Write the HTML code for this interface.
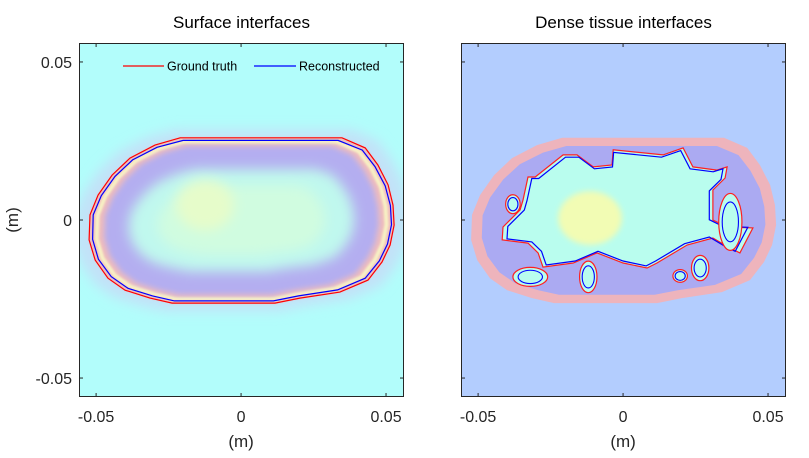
<!DOCTYPE html>
<html><head><meta charset="utf-8"><style>
body{margin:0;background:#fff;}
svg{display:block;font-family:"Liberation Sans",Arial,sans-serif;}
</style></head><body>
<svg id="c" width="809" height="458" viewBox="0 0 809 458">
<defs>
<filter id="b6" x="-30%" y="-30%" width="160%" height="160%"><feGaussianBlur stdDeviation="6"/></filter>
<filter id="b3" x="-30%" y="-30%" width="160%" height="160%"><feGaussianBlur stdDeviation="3"/></filter>
<filter id="b1"><feGaussianBlur stdDeviation="1"/></filter>
<clipPath id="clipL"><rect x="79" y="43" width="325" height="354"/></clipPath>
<clipPath id="clipR"><rect x="461" y="43" width="325" height="354"/></clipPath>
</defs>
<g id="root"></g>
</svg>
<script>
// ---- data (meters) ----
const xTicks = [-0.05, 0, 0.05];
const yTicks = [0.05, 0, -0.05];
const xTickLabels = ["-0.05", "0", "0.05"];
const yTickLabels = ["0.05", "0", "-0.05"];
const titles = ["Surface interfaces", "Dense tissue interfaces"];
const truthX = [-0.021,0.0348,0.0428,0.0472,0.0507,0.0524,0.0528,0.0514,0.0486,0.0438,0.0341,0.0203,0.0117,-0.0238,-0.0314,-0.04,-0.0459,-0.0503,-0.0524,-0.0521,-0.0493,-0.0445,-0.0383,-0.0297];
const truthY = [0.026,0.026,0.0228,0.0174,0.0111,0.0047,-0.0016,-0.0079,-0.0133,-0.019,-0.0228,-0.0247,-0.0263,-0.0263,-0.0247,-0.0222,-0.0184,-0.0127,-0.0063,0.0016,0.0079,0.0142,0.0196,0.0237];
const reconX = [-0.020,0.0335,0.0418,0.0462,0.0497,0.0515,0.0519,0.0505,0.0477,0.0428,0.0333,0.0198,0.0112,-0.0230,-0.0305,-0.0390,-0.0448,-0.0492,-0.0512,-0.0510,-0.0482,-0.0435,-0.0374,-0.0290];
const reconY = [0.0252,0.0252,0.0221,0.0169,0.0108,0.0046,-0.0015,-0.0076,-0.0129,-0.0184,-0.0221,-0.0240,-0.0256,-0.0256,-0.0240,-0.0216,-0.0179,-0.0124,-0.0061,0.0016,0.0077,0.0138,0.0190,0.0230];
const denseX = [-0.0303,-0.0207,-0.0159,-0.0103,-0.0038,-0.0034,0.0138,0.0207,0.0241,0.0324,0.0359,0.0352,0.031,0.031,0.0359,0.0448,0.0403,0.0369,0.031,0.0221,0.0117,0.0083,0,-0.009,-0.0172,-0.0276,-0.0293,-0.0328,-0.0417,-0.0414,-0.0355,-0.0345,-0.0328];
const denseY = [0.0136,0.0206,0.0206,0.0168,0.0174,0.0222,0.0206,0.0228,0.0168,0.0158,0.0168,0.0133,0.0095,0,-0.0022,-0.0025,-0.0104,-0.0089,-0.0057,-0.0079,-0.0136,-0.0152,-0.0136,-0.0104,-0.0136,-0.0149,-0.0104,-0.0073,-0.0063,-0.0022,0.0032,0.0063,0.0136];
const islandX = [-0.032,-0.012,0.0197,0.0266,0.037,-0.038];
const islandY = [-0.018,-0.018,-0.0177,-0.0152,-0.0006,0.005];
const islandRX = [0.006,0.003,0.0025,0.003,0.004,0.0025];
const islandRY = [0.003,0.005,0.002,0.004,0.009,0.003];

// ---- axes ----
const W = 325, H = 354, TOP = 43;
const panelsLeft = [79, 461];
const XMIN = -0.0559, XMAX = 0.0562, YMIN = -0.056, YMAX = 0.056;
const NS = "http://www.w3.org/2000/svg";
const root = document.getElementById('root');
function sx(p, v){ return panelsLeft[p] + (v - XMIN) / (XMAX - XMIN) * W; }
function sy(v){ return TOP + (YMAX - v) / (YMAX - YMIN) * H; }
function sxl(v){ return v / (XMAX - XMIN) * W; }
function syl(v){ return v / (YMAX - YMIN) * H; }
function mk(tag, attrs, parent){ const e = document.createElementNS(NS, tag); for (const k in attrs) e.setAttribute(k, attrs[k]); (parent||root).appendChild(e); return e; }
function pts(p, xs, ys, s, cx, cy, sy2){ s = s||1; sy2 = sy2||s; cx = cx||0; cy = cy||0; return xs.map((x,i)=> sx(p, cx+(x-cx)*s).toFixed(1)+','+sy(cy+(ys[i]-cy)*sy2).toFixed(1)).join(' '); }

// ===== LEFT PANEL =====
let gL = mk('g', {'clip-path':'url(#clipL)'});


mk('rect', {x:79,y:43,width:W,height:H,fill:'#b2fdfb'}, gL);
mk('polygon', {points:pts(0,truthX,truthY,1.1),fill:'#c2e2f8',filter:'url(#b6)'}, gL);
mk('polygon', {points:pts(0,truthX,truthY,1.0),fill:'#f0bcbc',filter:'url(#b1)'}, gL);
mk('polygon', {points:pts(0,truthX,truthY,0.95),fill:'none',stroke:'#f8f2c4',"stroke-width":4,filter:'url(#b1)'}, gL);
mk('polygon', {points:pts(0,truthX,truthY,0.9),fill:'#b4aef0',filter:'url(#b3)'}, gL);
mk('polygon', {points:pts(0,truthX,truthY,0.74,0,0,0.62),fill:'#c0f8ee',filter:'url(#b6)'}, gL);
mk('polygon', {points:pts(0,truthX,truthY,0.55,0,0,0.42),fill:'#d0fce0',filter:'url(#b6)'}, gL);
mk('ellipse', {cx:sx(0,-0.0124),cy:sy(0.0047),rx:sxl(0.01),ry:syl(0.008),fill:'#e6fcca',filter:'url(#b6)'}, gL);
let tl = mk('polygon', {points:pts(0,truthX,truthY),fill:'none',stroke:'#ff0000','stroke-width':1.2}, gL);


let rl = mk('polygon', {points:pts(0,reconX,reconY),fill:'none',stroke:'#0000ff','stroke-width':1.2}, gL);



// ===== RIGHT PANEL =====
let gR = mk('g', {'clip-path':'url(#clipR)'});


mk('rect', {x:461,y:43,width:W,height:H,fill:'#b3cdfe'}, gR);
mk('polygon', {points:pts(1,truthX,truthY,1.0),fill:'#eeb4bc'}, gR);
mk('polygon', {points:pts(1,truthX,truthY,0.93,0,0,0.9),fill:'#abaaf2'}, gR);
mk('polygon', {points:pts(1,denseX,denseY),fill:'#b9fdee',stroke:'#ff2020','stroke-width':1.2}, gR);
mk('ellipse', {cx:sx(1,-0.0114),cy:sy(0.0006),rx:sxl(0.011),ry:syl(0.0085),fill:'#f2fcb4',filter:'url(#b3)'}, gR);
let dr = mk('polygon', {points:pts(1,denseX,denseY,0.96,0.0,0.002),fill:'none',stroke:'#0000ff','stroke-width':1.2}, gR);


islandX.forEach((x,i)=>{
  const e = mk('ellipse', {cx:sx(1,x),cy:sy(islandY[i]),rx:sxl(islandRX[i]),ry:syl(islandRY[i]),fill:'#b9fdee',stroke:'#ff2020','stroke-width':1.2}, gR);
  
  
  const b = mk('ellipse', {cx:sx(1,x),cy:sy(islandY[i]),rx:sxl(islandRX[i])*0.7,ry:syl(islandRY[i])*0.7,fill:'none',stroke:'#0000ff','stroke-width':1.1}, gR);
  
  
});

// ===== axes frames, ticks, labels =====
[0,1].forEach(p=>{
  const L = panelsLeft[p];
  const fr = mk('rect', {x:L+0.5,y:TOP+0.5,width:W-1,height:H-1,fill:'none',stroke:'#262626','stroke-width':1});
  
  
  xTicks.forEach((v,i)=>{
    const x = sx(p,v);
    mk('line', {x1:x,x2:x,y1:TOP,y2:TOP+4,stroke:'#262626'});
    mk('line', {x1:x,x2:x,y1:TOP+H,y2:TOP+H-4,stroke:'#262626'});
    const t = mk('text', {x:x,y:TOP+H+25,'text-anchor':'middle','font-size':16,fill:'#262626'});
    t.textContent = xTickLabels[i];
    
    
  });
  yTicks.forEach((v,i)=>{
    const y = sy(v);
    mk('line', {x1:L,x2:L+4,y1:y,y2:y,stroke:'#262626'});
    mk('line', {x1:L+W,x2:L+W-4,y1:y,y2:y,stroke:'#262626'});
    if (p===0){
      const t = mk('text', {x:L-7,y:y+6,'text-anchor':'end','font-size':16,fill:'#262626'});
      t.textContent = yTickLabels[i];
      
      
    }
  });
  const ti = mk('text', {x:L+W/2,y:28,'text-anchor':'middle','font-size':17,fill:'#000'});
  ti.textContent = titles[p];
  
  
  const xl = mk('text', {x:sx(p,0),y:447,'text-anchor':'middle','font-size':17,fill:'#262626'});
  xl.textContent = '(m)';
  
  
});
const yl = mk('text', {x:18,y:220,'text-anchor':'middle','font-size':17,fill:'#262626',transform:'rotate(-90 18 220)'});
yl.textContent = '(m)';



// legend
const lg = mk('g', {});


mk('line', {x1:123,x2:164,y1:66,y2:66,stroke:'#ff0000','stroke-width':1.2}, lg);
const l1 = mk('text', {x:167,y:70.5,'font-size':12.5,fill:'#000'}, lg);
l1.textContent = 'Ground truth';


mk('line', {x1:254,x2:296,y1:66,y2:66,stroke:'#0000ff','stroke-width':1.2}, lg);
const l2 = mk('text', {x:299,y:70.5,'font-size':12.5,fill:'#000'}, lg);
l2.textContent = 'Reconstructed';


</script>
</body></html>
